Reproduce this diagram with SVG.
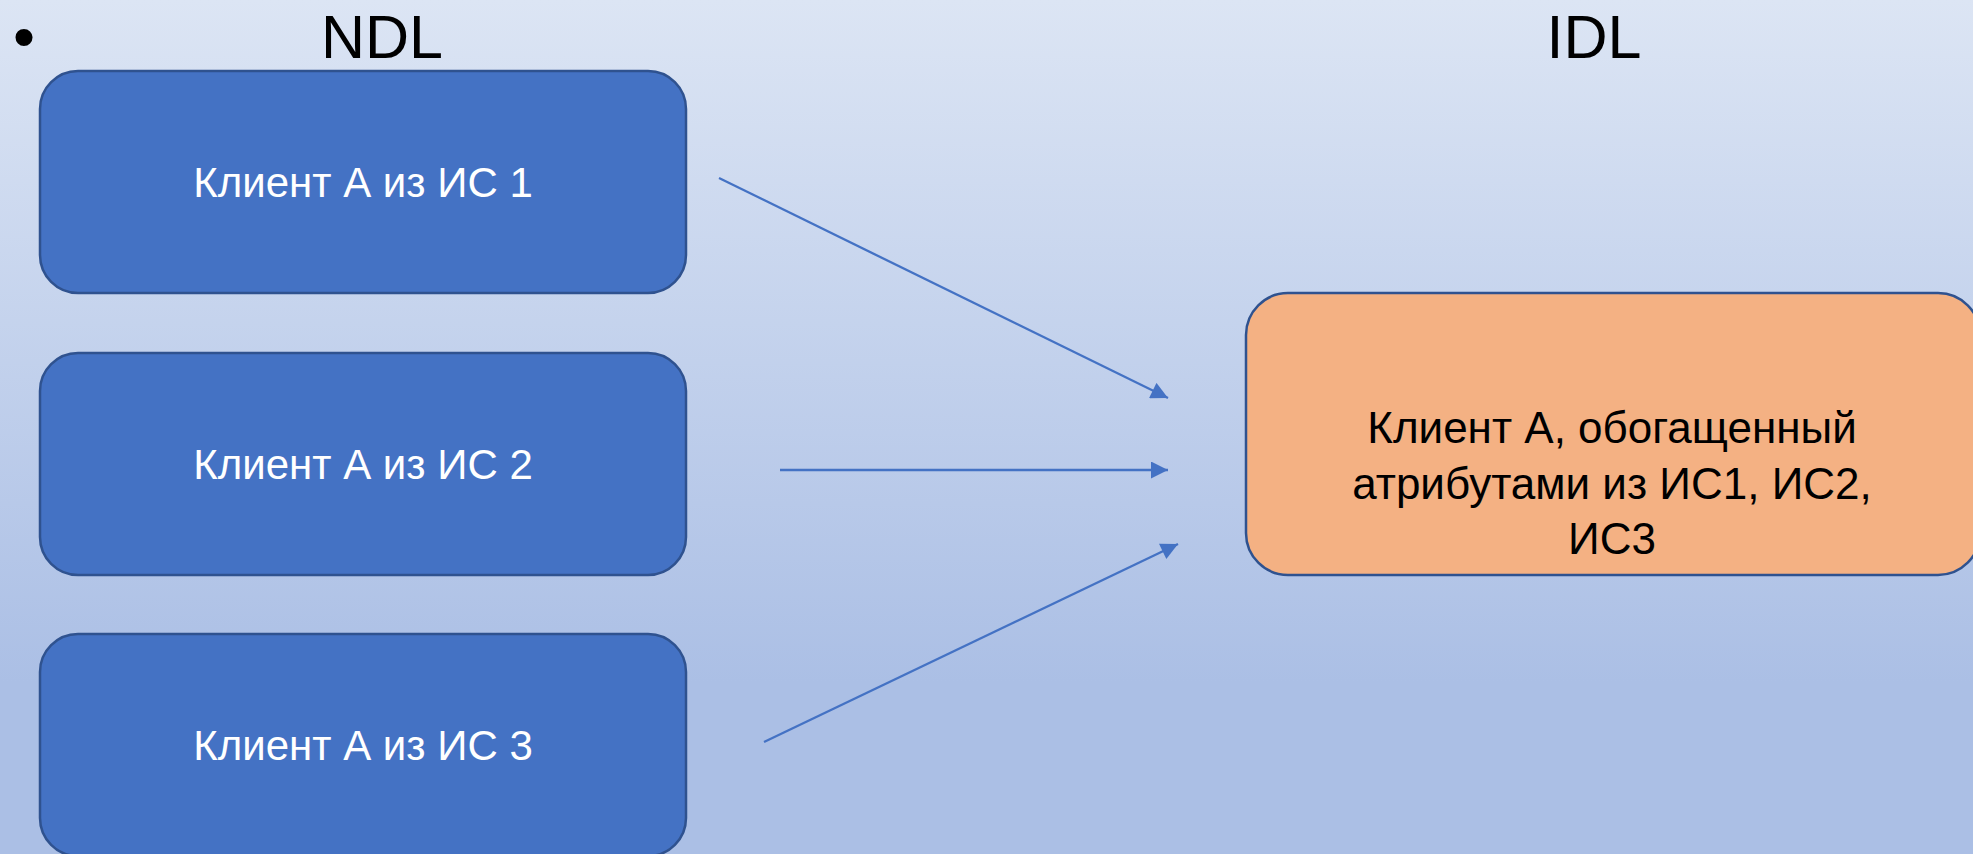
<svg xmlns="http://www.w3.org/2000/svg" width="1973" height="854" viewBox="0 0 1973 854">
<defs>
<linearGradient id="bg" x1="0" y1="0" x2="0" y2="1">
<stop offset="0" stop-color="#dce5f4"/>
<stop offset="0.8" stop-color="#abbfe5"/>
<stop offset="1" stop-color="#abbfe5"/>
</linearGradient>
<marker id="ah" viewBox="0 0 10 10" refX="10" refY="5" markerWidth="18" markerHeight="17" markerUnits="userSpaceOnUse" orient="auto">
<path d="M0,0 L10,5 L0,10 Z" fill="#4472c4"/>
</marker>
<style>
.src{fill:#4472c4;stroke:#2f528f;stroke-width:2.5}
.dst{fill:#f4b183;stroke:#2f528f;stroke-width:2.5}
.lbl{font-family:"Liberation Sans",Arial,sans-serif;font-size:42px;text-anchor:middle}
.big{font-size:44px}
.w{fill:#ffffff}
.b{fill:#000000}
.head{font-family:"Liberation Sans",Arial,sans-serif;font-size:61px;text-anchor:middle;fill:#000000}
.bul{font-family:"Liberation Sans",Arial,sans-serif;font-size:63px;text-anchor:middle;fill:#000000}
.con{stroke:#4472c4;stroke-width:2.3;fill:none;marker-end:url(#ah)}
</style>
</defs>
<rect x="0" y="0" width="1973" height="854" fill="url(#bg)"/>
<g id="titles">
<text class="bul" x="24" y="58">•</text>
<text class="head" x="382" y="58">NDL</text>
<text class="head" x="1594" y="58">IDL</text>
</g>
<g id="node-is1">
<rect class="src" x="40" y="71" width="646" height="222" rx="38"/>
<text class="lbl w" x="363" y="197">Клиент А из ИС 1</text>
</g>
<g id="node-is2">
<rect class="src" x="40" y="353" width="646" height="222" rx="38"/>
<text class="lbl w" x="363" y="479">Клиент А из ИС 2</text>
</g>
<g id="node-is3">
<rect class="src" x="40" y="634" width="646" height="222" rx="38"/>
<text class="lbl w" x="363" y="760">Клиент А из ИС 3</text>
</g>
<g id="node-idl">
<rect class="dst" x="1246" y="293" width="734" height="282" rx="42"/>
<text class="lbl big b" x="1612" y="443">Клиент А, обогащенный</text>
<text class="lbl big b" x="1612" y="499">атрибутами из ИС1, ИС2,</text>
<text class="lbl big b" x="1612" y="554">ИС3</text>
</g>
<g id="connectors">
<line class="con" x1="719" y1="178" x2="1168" y2="398"/>
<line class="con" x1="780" y1="470" x2="1168" y2="470"/>
<line class="con" x1="764" y1="742" x2="1178" y2="544"/>
</g>
</svg>
